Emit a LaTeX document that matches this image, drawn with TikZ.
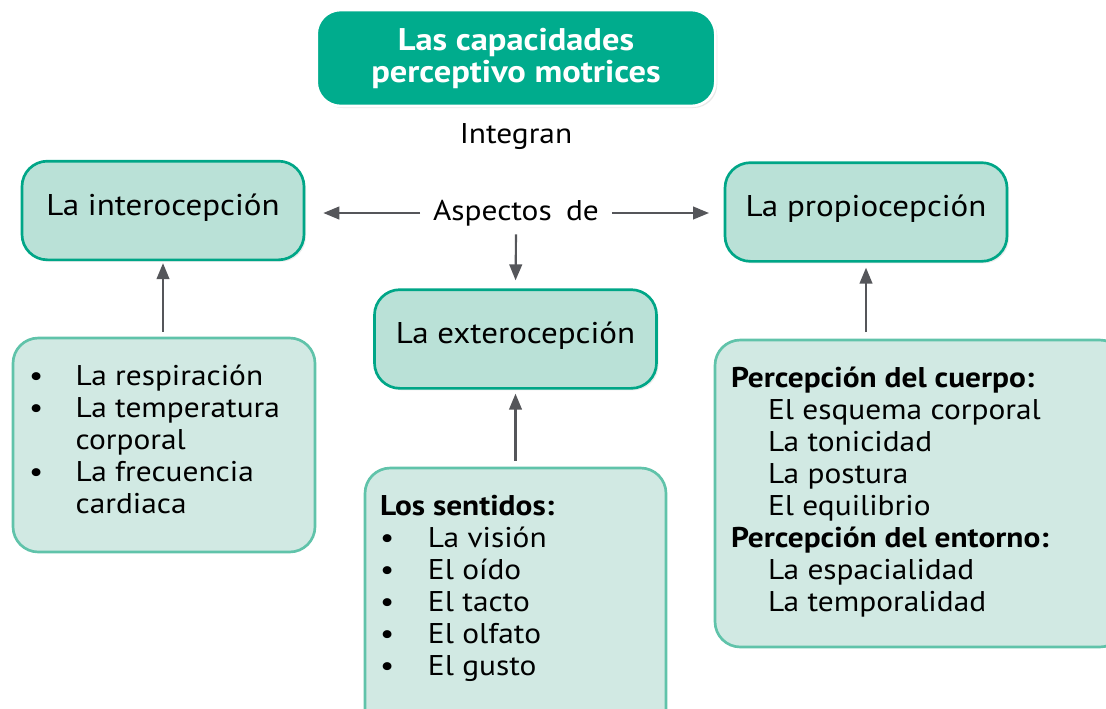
\documentclass[tikz,border=0pt]{standalone}
\usepackage{fontspec}
\setmainfont{PT Sans}[FakeStretch=1.1]
\usepackage{tikz}
\usepackage{xcolor}
\usetikzlibrary{arrows.meta,shadows}
\definecolor{verde}{RGB}{0,172,141}
\definecolor{cajafondo}{RGB}{186,225,215}
\definecolor{cajaborde}{RGB}{0,166,135}
\definecolor{listafondo}{RGB}{209,233,227}
\definecolor{listaborde}{RGB}{96,195,170}
\definecolor{gris}{RGB}{85,86,90}
\newcommand{\punto}[1]{\makebox[#1][l]{\textbullet}}
\begin{document}
\begin{tikzpicture}[x=0.75pt,y=-0.75pt,
  titulo/.style={rounded corners=18pt,fill=verde,draw=white,line width=2pt,text=white,align=center,
    font=\bfseries\fontsize{23.5}{24}\selectfont,minimum width=299pt,minimum height=72pt,
    drop shadow={opacity=0.18,shadow xshift=1.5pt,shadow yshift=-1.5pt}},
  caja/.style={rounded corners=19pt,fill=cajafondo,draw=cajaborde,line width=2pt,
    font=\fontsize{22.5}{24}\selectfont,minimum width=211.5pt,minimum height=74pt,text height=16pt,text depth=9pt,
    drop shadow={opacity=0.15,shadow xshift=1.5pt,shadow yshift=-1.5pt}},
  lista/.style={rounded corners=19pt,fill=listafondo,draw=listaborde,line width=2pt,inner ysep=0pt,
    font=\fontsize{21.4}{24}\selectfont},
  rotulo/.style={font=\fontsize{21.4}{24}\selectfont},
  flecha/.style={draw=gris,line width=1.6pt,-{Triangle[length=12pt,width=9.5pt]}}]
\useasboundingbox (0,0) rectangle (1106,708);
\node[titulo] (capac) at (516,58) {Las capacidades\\perceptivo motrices};
\node[rotulo] (integ) at (516,137) {Integran};
\node[rotulo,inner xsep=9.5pt,inner ysep=6pt] (asp) at (516,213) {Aspectos\hspace{0.5em}de};
\node[caja] (intero) at (163,210.5) {La interocepción};
\node[caja] (extero) at (515.5,339) {La exterocepción};
\node[caja] (propio) at (866,212) {La propiocepción};
\node[lista,inner xsep=12pt] (intlista) at (164,445) {\parbox[c][160.5pt][t]{202.5pt}{\raggedright\vspace*{18.45pt}%
  \strut\punto{35pt}La respiración\\
  \punto{35pt}La temperatura\\
  \hspace*{35pt}corporal\\
  \punto{35pt}La frecuencia\\
  \hspace*{35pt}cardiaca}};
\node[lista,inner xsep=11.25pt] (sentidos) at (515.5,604) {\parbox[c][204pt][t]{203.25pt}{\raggedright\vspace*{18.45pt}%
  \strut\textbf{Los sentidos:}\\
  \punto{36pt}La visión\\
  \punto{36pt}El oído\\
  \punto{36pt}El tacto\\
  \punto{36pt}El olfato\\
  \punto{36pt}El gusto}};
\node[lista,inner xsep=12pt] (proplista) at (920,493.5) {\parbox[c][230.25pt][t]{283.5pt}{\raggedright\vspace*{18.45pt}%
  \strut\textbf{Percepción del cuerpo:}\\
  \hspace*{27.75pt}El esquema corporal\\
  \hspace*{27.75pt}La tonicidad\\
  \hspace*{27.75pt}La postura\\
  \hspace*{27.75pt}El equilibrio\\
  \textbf{Percepción del entorno:}\\
  \hspace*{27.75pt}La espacialidad\\
  \hspace*{27.75pt}La temporalidad}};
\draw[flecha,shorten >=13.5pt] (asp.west) -- (asp.west -| intero.east);
\draw[flecha,shorten >=11pt] (asp.east) -- (asp.east -| propio.west);
\draw[flecha,shorten >=6pt] (asp.south) -- (extero.north);
\draw[flecha,shorten <=3.75pt,shorten >=1.5pt] (intero.south |- intlista.north) -- (intero.south);
\draw[flecha,shorten <=4.5pt,shorten >=3pt] (sentidos.north) -- (extero.south);
\draw[flecha,shorten <=5pt,shorten >=3.75pt] (propio.south |- proplista.north) -- (propio.south);
\end{tikzpicture}
\end{document}
